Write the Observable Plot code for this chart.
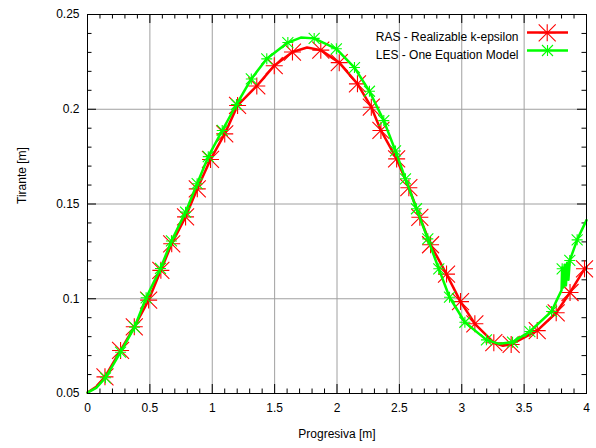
<!DOCTYPE html>
<html>
<head>
<meta charset="utf-8">
<script src="https://cdn.jsdelivr.net/npm/d3@7"></script>
<script src="https://cdn.jsdelivr.net/npm/@observablehq/plot@0.6"></script>
<style>
  html, body { margin: 0; padding: 0; background: #fff; }
  #chart svg { display: block; font-family: "Liberation Sans", Arial, sans-serif; }
</style>
</head>
<body>
<div id="chart"></div>
<script>
// ---- data ----
const seriesNames = ["RAS - Realizable k-epsilon", "LES - One Equation Model"];
const xTicks = [0, 0.5, 1, 1.5, 2, 2.5, 3, 3.5, 4];
const xTickLabels = ["0", "0.5", "1", "1.5", "2", "2.5", "3", "3.5", "4"];
const yTicks = [0.05, 0.1, 0.15, 0.2, 0.25];
const yTickLabels = ["0.05", "0.1", "0.15", "0.2", "0.25"];
const xMinorTicks = [0.1,0.2,0.3,0.4,0.6,0.7,0.8,0.9,1.1,1.2,1.3,1.4,1.6,1.7,1.8,1.9,2.1,2.2,2.3,2.4,2.6,2.7,2.8,2.9,3.1,3.2,3.3,3.4,3.6,3.7,3.8,3.9];
const yMinorTicks = [0.06,0.07,0.08,0.09,0.11,0.12,0.13,0.14,0.16,0.17,0.18,0.19,0.21,0.22,0.23,0.24];
const xLabel = "Progresiva [m]";
const yLabel = "Tirante [m]";

// RAS markers
const rasX = [0.14,0.265,0.375,0.49,0.588,0.675,0.786,0.88,0.986,1.1,1.203,1.357,1.497,1.643,1.87,2.018,2.164,2.275,2.352,2.478,2.576,2.664,2.75,2.878,2.99,3.105,3.257,3.396,3.605,3.757,3.868,3.984];
const rasY = [0.0588,0.0727,0.0852,0.0993,0.1150,0.1290,0.1432,0.1580,0.1735,0.1870,0.2020,0.2123,0.2230,0.2302,0.2312,0.2246,0.2134,0.2011,0.1888,0.1738,0.1586,0.1430,0.1285,0.1130,0.0985,0.0868,0.0768,0.0759,0.0832,0.0926,0.1033,0.1158];
// RAS line
const rasLineX = [0,0.07,0.14,0.265,0.375,0.49,0.588,0.675,0.786,0.88,0.986,1.1,1.203,1.357,1.497,1.643,1.76,1.87,2.018,2.164,2.275,2.352,2.478,2.576,2.664,2.75,2.878,2.99,3.105,3.257,3.33,3.396,3.605,3.757,3.868,3.93,3.984,4.0];
const rasLineY = [0.0505,0.0535,0.0588,0.0727,0.0852,0.0993,0.1150,0.1290,0.1432,0.1580,0.1735,0.1870,0.2020,0.2123,0.2230,0.2302,0.2326,0.2312,0.2246,0.2134,0.2011,0.1888,0.1738,0.1586,0.1430,0.1285,0.1130,0.0985,0.0868,0.0768,0.0752,0.0759,0.0832,0.0926,0.1033,0.1100,0.1158,0.1167];

// LES markers
const lesX = [0.144,0.265,0.377,0.47,0.585,0.673,0.786,0.879,0.968,1.08,1.194,1.313,1.437,1.606,1.817,1.995,2.14,2.26,2.375,2.469,2.549,2.637,2.728,2.816,2.902,3.025,3.198,3.407,3.546,3.72,3.805,3.866,3.925];
const lesY = [0.0583,0.0718,0.0850,0.1005,0.1160,0.1305,0.1457,0.1607,0.1750,0.1888,0.2025,0.2160,0.2266,0.2352,0.2374,0.2319,0.2220,0.2095,0.1940,0.1780,0.1633,0.1475,0.1316,0.1158,0.1008,0.0876,0.0783,0.0771,0.0827,0.0933,0.1158,0.1202,0.1311];
// LES line
const lesLineX = [0,0.07,0.144,0.265,0.377,0.47,0.585,0.673,0.786,0.879,0.968,1.08,1.194,1.313,1.437,1.606,1.71,1.817,1.995,2.14,2.26,2.375,2.469,2.549,2.637,2.728,2.816,2.902,3.025,3.198,3.3,3.407,3.546,3.72,3.76,3.80,3.805,3.815,3.825,3.835,3.845,3.855,3.866,3.925,4.0];
const lesLineY = [0.0505,0.0530,0.0583,0.0718,0.0850,0.1005,0.1160,0.1305,0.1457,0.1607,0.1750,0.1888,0.2025,0.2160,0.2266,0.2352,0.2378,0.2374,0.2319,0.2220,0.2095,0.1940,0.1780,0.1633,0.1475,0.1316,0.1158,0.1008,0.0876,0.0783,0.0762,0.0771,0.0827,0.0933,0.0990,0.1045,0.1165,0.1060,0.1180,0.1070,0.1190,0.1100,0.1202,0.1311,0.1415];

// ---- build ----
const toRows = (xs, ys) => xs.map((x, i) => ({x, y: ys[i]}));
const ras = toRows(rasX, rasY), les = toRows(lesX, lesY);
const rasLine = toRows(rasLineX, rasLineY), lesLine = toRows(lesLineX, lesLineY);

// 8-armed asterisk, drawn as separate closed-free segments
const star = {
  draw(ctx, size) {
    const r = Math.sqrt(size / Math.PI);
    ctx.moveTo(-r, 0.01); ctx.lineTo(r, 0.01);
    ctx.moveTo(0.01, -r); ctx.lineTo(0.01, r);
    ctx.moveTo(-r, -r); ctx.lineTo(r, r);
    ctx.moveTo(-r, r); ctx.lineTo(r, -r);
  }
};
const hline = {
  draw(ctx, size) {
    const r = Math.sqrt(size / Math.PI);
    ctx.moveTo(-r, 0); ctx.lineTo(r, 0);
  }
};

const W = 596, H = 448, mL = 87, mR = 10, mT = 14, mB = 55;
const pw = W - mL - mR, ph = H - mT - mB;
const RED = "#ff0000", GREEN = "#00ff00", GRID = "#a0a0a0";
const majorLen = 9, minorLen = 4.5;

const chart = Plot.plot({
  width: W, height: H,
  marginLeft: mL, marginRight: mR, marginTop: mT, marginBottom: mB,
  style: {fontSize: "12px", fontFamily: "Liberation Sans, Arial, sans-serif", color: "black"},
  x: {domain: [0, 4], axis: null},
  y: {domain: [0.05, 0.25], axis: null},
  marks: [
    Plot.ruleX(xTicks.slice(1, -1), {x: d => d, stroke: GRID, strokeWidth: 1}),
    Plot.ruleY(yTicks.slice(1, -1), {y: d => d, stroke: GRID, strokeWidth: 1}),
    // ticks
    Plot.tickX(xTicks, {x: d => d, insetTop: ph - majorLen, stroke: "black"}),
    Plot.tickX(xTicks, {x: d => d, insetBottom: ph - majorLen, stroke: "black"}),
    Plot.tickX(xMinorTicks, {x: d => d, insetTop: ph - minorLen, stroke: "black"}),
    Plot.tickX(xMinorTicks, {x: d => d, insetBottom: ph - minorLen, stroke: "black"}),
    Plot.tickY(yTicks, {y: d => d, insetRight: pw - majorLen, stroke: "black"}),
    Plot.tickY(yTicks, {y: d => d, insetLeft: pw - majorLen, stroke: "black"}),
    Plot.tickY(yMinorTicks, {y: d => d, insetRight: pw - minorLen, stroke: "black"}),
    Plot.tickY(yMinorTicks, {y: d => d, insetLeft: pw - minorLen, stroke: "black"}),
    // tick labels
    Plot.text(xTicks, {x: d => d, frameAnchor: "bottom", dy: 18, text: (d, i) => xTickLabels[i], fill: "black"}),
    Plot.text(yTicks, {y: d => d, frameAnchor: "left", dx: -8, textAnchor: "end", text: (d, i) => yTickLabels[i], fill: "black"}),
    // axis labels
    Plot.text([xLabel], {frameAnchor: "bottom", dy: 44, text: d => d, fill: "black"}),
    Plot.text([yLabel], {frameAnchor: "left", dx: -65, rotate: -90, text: d => d, fill: "black"}),
    // series
    Plot.line(rasLine, {x: "x", y: "y", stroke: RED, strokeWidth: 2.5}),
    Plot.dot(ras, {x: "x", y: "y", symbol: star, r: 8.5, stroke: RED, fill: "none", strokeWidth: 1.1}),
    Plot.line(lesLine, {x: "x", y: "y", stroke: GREEN, strokeWidth: 2.5}),
    Plot.dot(les, {x: "x", y: "y", symbol: star, r: 5.5, stroke: GREEN, fill: "none", strokeWidth: 1.1}),
    // legend
    Plot.text([seriesNames[0]], {frameAnchor: "top-right", dx: -68, dy: 18, textAnchor: "end", text: d => d, fill: "black"}),
    Plot.text([seriesNames[1]], {frameAnchor: "top-right", dx: -68, dy: 36, textAnchor: "end", text: d => d, fill: "black"}),
    Plot.dot([0], {frameAnchor: "top-right", dx: -39, dy: 18, symbol: hline, r: 20.5, stroke: RED, strokeWidth: 2.5, fill: "none"}),
    Plot.dot([0], {frameAnchor: "top-right", dx: -39.3, dy: 18.3, symbol: star, r: 8.5, stroke: RED, strokeWidth: 1.1, fill: "none"}),
    Plot.dot([0], {frameAnchor: "top-right", dx: -39, dy: 36, symbol: hline, r: 20.5, stroke: GREEN, strokeWidth: 2.5, fill: "none"}),
    Plot.dot([0], {frameAnchor: "top-right", dx: -39, dy: 36, symbol: star, r: 5.5, stroke: GREEN, strokeWidth: 1.1, fill: "none"}),
    Plot.frame({stroke: "black", strokeWidth: 1})
  ]
});
document.getElementById("chart").appendChild(chart);
</script>
</body>
</html>
